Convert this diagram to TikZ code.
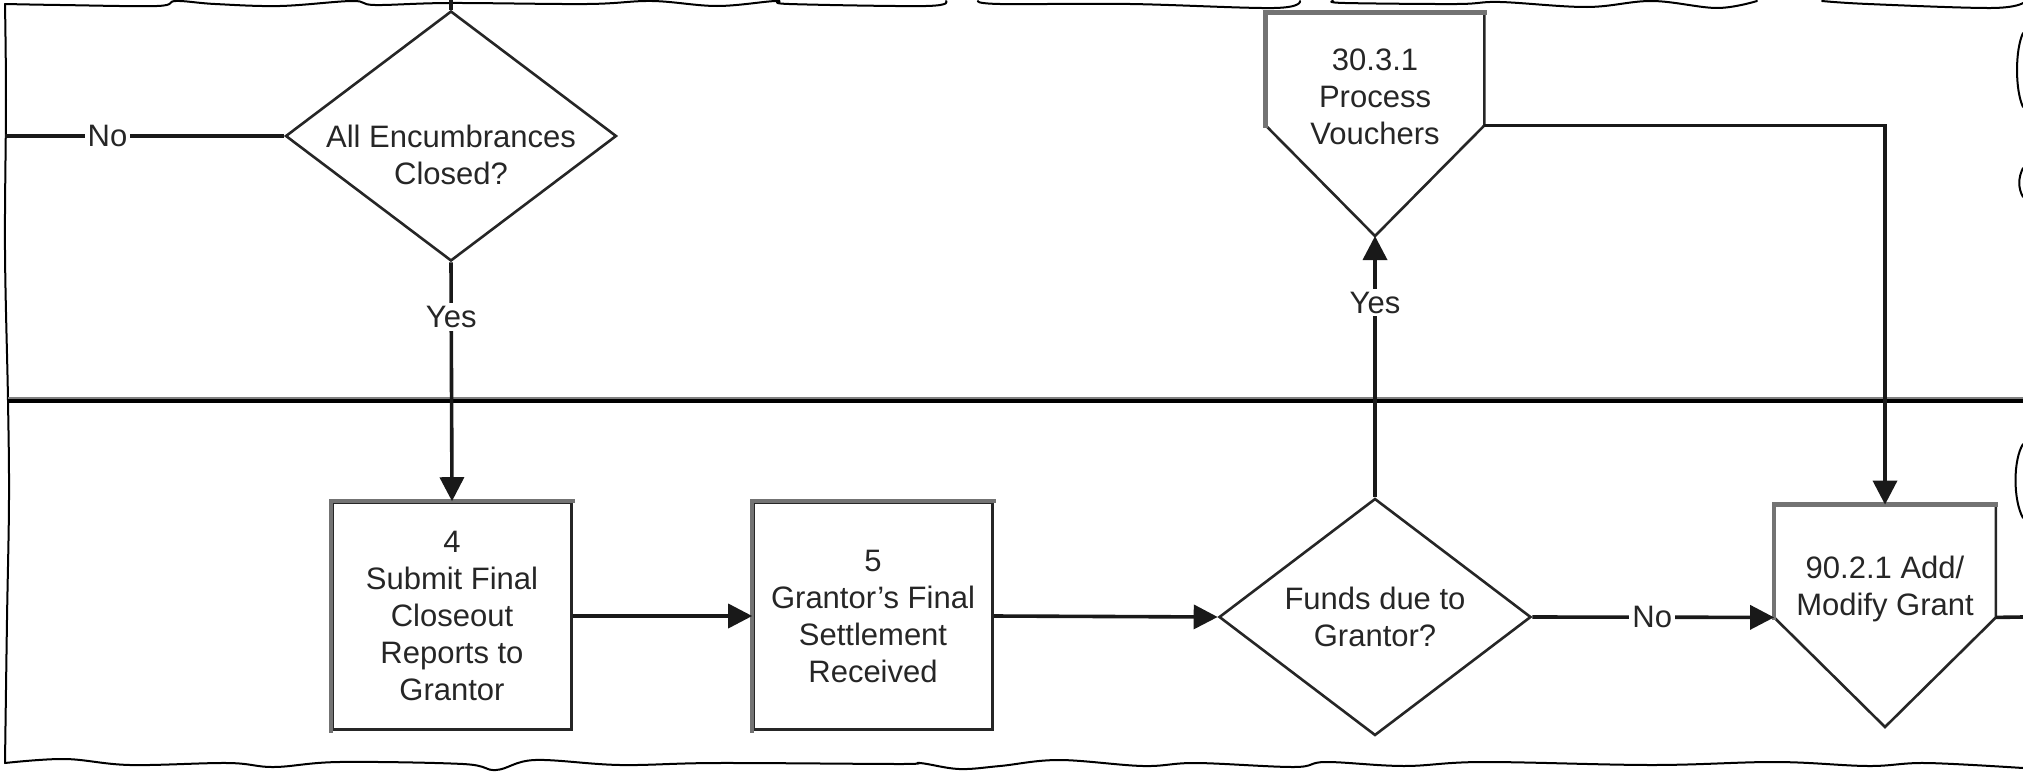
\documentclass[tikz,border=0pt]{standalone}
\usepackage{fontspec}
\setmainfont{Liberation Sans}
\usetikzlibrary{shapes.geometric,arrows.meta}
\begin{document}
\begin{tikzpicture}[x=0.5pt,y=-0.5pt,
  every node/.style={font=\fontsize{15.5}{18.5}\selectfont, align=center, text=black!85},
  shapeline/.style={draw=black!85, line width=1.3pt},
  procbox/.style={shapeline, rectangle, minimum width=119.5pt, minimum height=113.5pt, inner sep=0pt},
  decision/.style={shapeline, diamond, inner sep=0pt},
  refbox/.style={rectangle, minimum width=109pt, minimum height=56pt, inner sep=0pt},
  shade/.style={draw=black!55, line width=2.2pt, line cap=rect},
  conn/.style={draw=black!90, line width=1.8pt, -{Triangle[length=12pt,width=12pt]}},
  plainconn/.style={draw=black!90, line width=1.8pt},
  lbl/.style={fill=white, inner sep=1.5pt},
  tornedge/.style={draw=black, line width=1pt, line join=round, line cap=round}
]
\useasboundingbox (0,0) rectangle (2023,771);

% torn border
\draw[tornedge] plot[smooth, tension=0.6] coordinates {(5,4) (60,5) (157,6) (176,1) (215,4) (280,6) (352,1) (375,5) (450,3) (587,4) (652,1) (717,6) (776,1) (789,4) (926,6) (946,1)};
\draw[tornedge] plot[smooth, tension=0.6] coordinates {(978,1) (1000,4) (1130,4) (1274,8) (1300,1)};
\draw[tornedge] plot[smooth, tension=0.6] coordinates {(1333,1) (1345,3) (1457,4) (1500,2) (1587,7) (1652,1) (1717,8) (1757,1)};
\draw[tornedge] plot[smooth, tension=0.6] coordinates {(1822,1) (1868,4) (1991,8) (2023,3)};
\draw[tornedge] plot[smooth, tension=0.6] coordinates {(5,4) (6,100) (5,250) (8,400) (9,500) (7,620) (5,763)};
\draw[tornedge] plot[smooth, tension=0.6] coordinates {(5,763) (65,759) (130,765) (228,763) (274,767) (339,762) (463,764) (496,770) (535,760) (620,765) (717,763) (900,764) (920,763) (959,769) (1000,766) (1059,760) (1143,766) (1196,763) (1294,767) (1326,762) (1404,766) (1483,762) (1652,765) (1776,762) (1868,766) (1926,763) (2023,768)};
\draw[tornedge] (2023,33) .. controls (2015,50) and (2015,90) .. (2023,107);
\draw[tornedge] (2023,168) .. controls (2018,178) and (2018,188) .. (2023,197);
\draw[tornedge] (2023,444) .. controls (2013,460) and (2013,500) .. (2023,518);

% lane divider
\coordinate (lanel) at (8,401);
\coordinate (laner) at (2023,401);
\draw[draw=black!50, line width=1.5pt] ([yshift=1.5pt]lanel) -- ([yshift=1.5pt]laner);
\draw[line width=1.6pt] (lanel) -- (laner);

% nodes
\node[decision, minimum width=165.5pt, minimum height=125pt,
      label={[yshift=-9.5pt]center:All Encumbrances\\Closed?}] (d1) at (451,136) {};
\node[procbox] (b4) at (452,616) {4\\Submit Final\\Closeout\\Reports to\\Grantor};
\node[procbox] (b5) at (873,616) {5\\Grantor's Final\\Settlement\\Received};
\draw[shade] (b4.south west) -- (b4.north west) -- (b4.north east);
\draw[shade] (b5.south west) -- (b5.north west) -- (b5.north east);
\node[decision, minimum width=156pt, minimum height=118.5pt,
      label={center:Funds due to\\Grantor?}] (d2) at (1375,617) {};

\node[refbox] (pv) at (1375,69) {};
\coordinate (pvtip) at (1375,236);
\draw[shapeline, line join=miter] (pv.south west) -- (pv.north west) -- (pv.north east) -- (pv.south east) -- (pvtip) -- cycle;
\draw[shade] (pv.south west) -- (pv.north west) -- (pv.north east);
\node (pvtext) at (1375,97) {30.3.1\\Process\\Vouchers};

\node[refbox, minimum width=110.5pt] (g) at (1885,561) {};
\coordinate (gtip) at (1885,727);
\draw[shapeline, line join=miter] (g.south west) -- (g.north west) -- (g.north east) -- (g.south east) -- (gtip) -- cycle;
\draw[shade] (g.south west) -- (g.north west) -- (g.north east);
\node (gtext) at (1885,589) {90.2.1 Add/\\Modify Grant};

% connectors
\coordinate (d1top) at (451,0);
\coordinate (noend) at (5,136);
\coordinate (gout) at (2023,617);
\draw[plainconn] (d1.north) -- (d1top);
\draw[plainconn] (d1.west) -- node[lbl, pos=0.633] {No} (noend);
\draw[conn] (d1.south) -- node[lbl, pos=0.23] {Yes} (b4.north);
\draw[conn] (b4.east) -- (b5.west);
\draw[conn] (b5.east) -- (d2.west);
\draw[conn] (d2.north) -- node[lbl, pos=0.745] {Yes} (pvtip);
\draw[conn] (pv.south east) -| (g.north);
\draw[conn] (d2.east) -- node[lbl, pos=0.496] {No} (g.south west);
\draw[plainconn] (g.south east) -- (gout);
\end{tikzpicture}
\end{document}
